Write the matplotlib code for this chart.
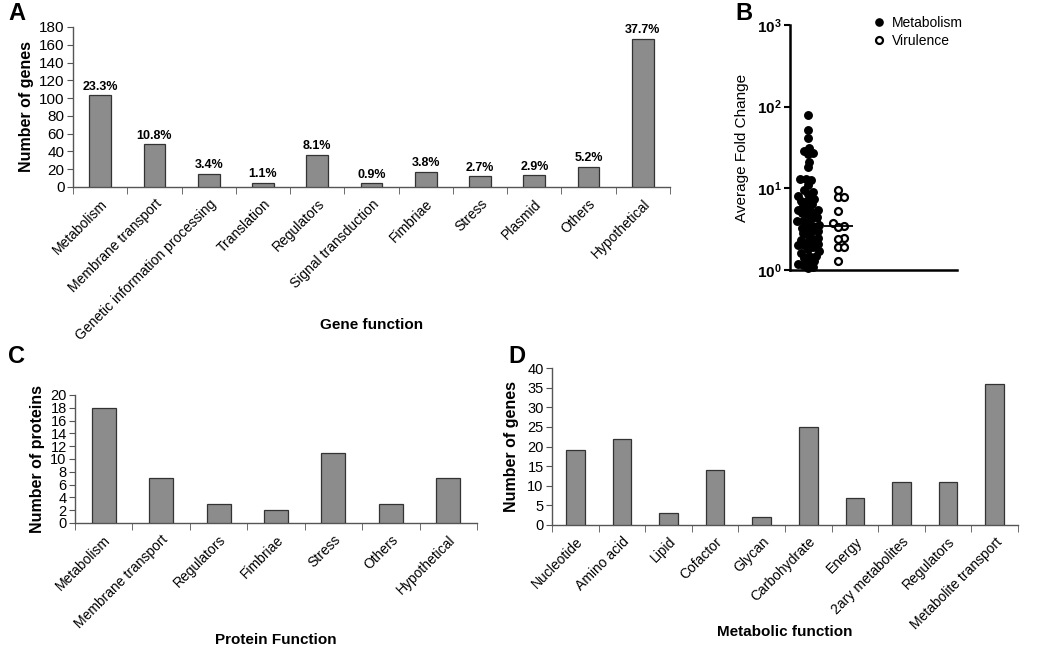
import numpy as np
import matplotlib
matplotlib.use('Agg')
import matplotlib.pyplot as plt
from matplotlib.lines import Line2D

plt.rcParams['font.family'] = ['Liberation Sans', 'DejaVu Sans']
plt.rcParams['mathtext.fontset'] = 'custom'
plt.rcParams['mathtext.rm'] = 'Liberation Sans'
plt.rcParams['mathtext.bf'] = 'Liberation Sans:bold'

# panel A
gene_funcs = ['Metabolism', 'Membrane transport', 'Genetic information processing', 'Translation',
              'Regulators', 'Signal transduction', 'Fimbriae', 'Stress', 'Plasmid', 'Others', 'Hypothetical']
gene_counts = [103, 48, 15, 5, 36, 4, 17, 12, 13, 23, 167]

# panel B
metab_fc = [78, 52, 41, 31, 29, 27, 26, 21, 18, 13, 13, 12.5, 11, 9.5, 9, 8.5, 8, 7.5, 7, 7,
            6.5, 6, 5.8, 5.5, 5.5, 5.2, 5, 4.8, 4.5, 4.3, 4, 4, 3.8, 3.6, 3.5, 3.3, 3.2, 3, 3,
            2.8, 2.7, 2.5, 2.4, 2.3, 2.2, 2.1, 2, 2, 1.9, 1.8, 1.7, 1.6, 1.5, 1.5, 1.4, 1.3,
            1.25, 1.2, 1.15, 1.1, 1.05]
vir_fc = [9.6, 7.9, 7.9, 5.3, 3.8, 3.5, 3.4, 2.5, 2.4, 1.9, 1.9, 1.3]

# panel C
prot_funcs = ['Metabolism', 'Membrane transport', 'Regulators', 'Fimbriae', 'Stress', 'Others', 'Hypothetical']
prot_counts = [18, 7, 3, 2, 11, 3, 7]

# panel D
metab_funcs = ['Nucleotide', 'Amino acid', 'Lipid', 'Cofactor', 'Glycan', 'Carbohydrate', 'Energy',
               '2ary metabolites', 'Regulators', 'Metabolite transport']
metab_counts = [19, 22, 3, 14, 2, 25, 7, 11, 11, 36]

W, H = 1050, 648
fig = plt.figure(figsize=(10.5, 6.48), dpi=100)


def px_axes(l, t, r, b):
    return fig.add_axes([l / W, (H - b) / H, (r - l) / W, (b - t) / H])


def excel_bar(ax, labels, vals, ymax, ystep, wfrac, tick_fs, lab_fs):
    n = len(vals)
    x = np.arange(n)
    ax.bar(x, vals, width=wfrac, color='#8c8c8c', edgecolor='#333333', linewidth=0.9, zorder=3)
    ax.set_xlim(-0.5, n - 0.5)
    ax.set_ylim(0, ymax)
    ax.set_yticks(np.arange(0, ymax + 0.1, ystep))
    ax.set_xticks(x)
    ax.set_xticklabels(labels, rotation=45, ha='right', va='top', rotation_mode='anchor', fontsize=lab_fs)
    ax.set_xticks(np.arange(-0.5, n, 1.0), minor=True)
    ax.tick_params(axis='x', which='major', length=0, pad=7)
    ax.tick_params(axis='x', which='minor', length=5, direction='out', color='#555555')
    ax.tick_params(axis='y', length=4, direction='out', labelsize=tick_fs, color='#555555', pad=2)
    for s in ['top', 'right']:
        ax.spines[s].set_visible(False)
    for s in ['left', 'bottom']:
        ax.spines[s].set_color('#555555')
        ax.spines[s].set_linewidth(1.0)
    return x


# ---- A
axA = px_axes(73, 27, 670, 187)
xa = excel_bar(axA, gene_funcs, gene_counts, 180, 20, 0.4, 11, 10)
total = sum(gene_counts)
for xi, v in zip(xa, gene_counts):
    axA.text(xi, v + 3, f'{100 * v / total:.1f}%', ha='center', va='bottom', fontsize=9, fontweight='bold')
axA.set_ylabel('Number of genes', fontsize=11.5, fontweight='bold', labelpad=4)
axA.set_xlabel('Gene function', fontsize=11, fontweight='bold')
axA.xaxis.set_label_coords(0.5, -0.82)

# ---- C
axC = px_axes(75, 395, 477, 523)
excel_bar(axC, prot_funcs, prot_counts, 20, 2, 0.42, 10.5, 10)
axC.set_ylabel('Number of proteins', fontsize=11.5, fontweight='bold', labelpad=4)
axC.set_xlabel('Protein Function', fontsize=11, fontweight='bold')
axC.xaxis.set_label_coords(0.5, -0.86)

# ---- D
axD = px_axes(552, 368, 1018, 525)
excel_bar(axD, metab_funcs, metab_counts, 40, 5, 0.4, 10.5, 10)
axD.set_ylabel('Number of genes', fontsize=11.5, fontweight='bold', labelpad=6)
axD.set_xlabel('Metabolic function', fontsize=11, fontweight='bold')
axD.xaxis.set_label_coords(0.5, -0.64)

# ---- B
axB = px_axes(790, 25, 957, 270)
axB.set_yscale('log')
axB.set_ylim(1, 1000)
axB.set_xlim(-0.6, 4.97)
axB.set_yticks([1, 10, 100, 1000])
axB.set_yticklabels([r'$\mathbf{10^{0}}$', r'$\mathbf{10^{1}}$', r'$\mathbf{10^{2}}$', r'$\mathbf{10^{3}}$'])
axB.yaxis.set_minor_locator(matplotlib.ticker.NullLocator())
axB.set_xticks([])
axB.tick_params(axis='y', length=4, width=1.5, labelsize=11, pad=2)
for s in ['top', 'right']:
    axB.spines[s].set_visible(False)
for s in ['left', 'bottom']:
    axB.spines[s].set_linewidth(1.8)
axB.set_ylabel('Average Fold Change', fontsize=11, labelpad=6)

fig.canvas.draw()
ppu = axB.transData.transform((1, 1))[0] - axB.transData.transform((0, 1))[0]


def swarm(vals, d):
    ys = axB.transData.transform(np.column_stack([np.zeros(len(vals)), vals]))[:, 1]
    order = np.argsort(ys)
    placed = []
    offs = np.zeros(len(vals))
    for i in order:
        y = ys[i]
        cands = [0.0]
        for (px, py) in placed:
            dy = y - py
            if abs(dy) < d:
                dx = np.sqrt(d * d - dy * dy)
                cands += [px + dx, px - dx]
        cands = sorted(cands, key=abs)
        for c in cands:
            if all((c - px) ** 2 + (y - py) ** 2 >= d * d - 1e-6 for (px, py) in placed):
                offs[i] = c
                placed.append((c, y))
                break
    return offs / ppu


mo = swarm(metab_fc, 5.6)
vo = swarm(vir_fc, 6.5)
axB.plot(0 + mo, metab_fc, 'o', ms=5.4, color='black', mec='black', ls='none', clip_on=False, zorder=3)
axB.plot(1 + vo, vir_fc, 'o', ms=5.0, mfc='white', mec='black', mew=1.6, ls='none', clip_on=False, zorder=3)
axB.hlines(np.median(metab_fc), -0.45, 0.45, color='black', lw=1.3, zorder=4)
axB.hlines(np.median(vir_fc), 0.55, 1.5, color='black', lw=1.3, zorder=4)

handles = [Line2D([], [], marker='o', ls='none', color='black', ms=5.2),
           Line2D([], [], marker='o', ls='none', mfc='white', mec='black', mew=1.6, ms=5.0)]
axB.legend(handles, ['Metabolism', 'Virulence'], loc='upper left', bbox_to_anchor=(0.45, 1.06),
           frameon=False, fontsize=10, handletextpad=0.3, labelspacing=0.3, borderaxespad=0, handlelength=1.2)

# panel letters
for lab, (x, y) in zip('ABCD', [(8, 2), (735, 2), (8, 345), (508, 345)]):
    fig.text(x / W, 1 - y / H, lab, fontsize=17, fontweight='bold', va='top', ha='left')

fig.savefig('out.png', dpi=100)
